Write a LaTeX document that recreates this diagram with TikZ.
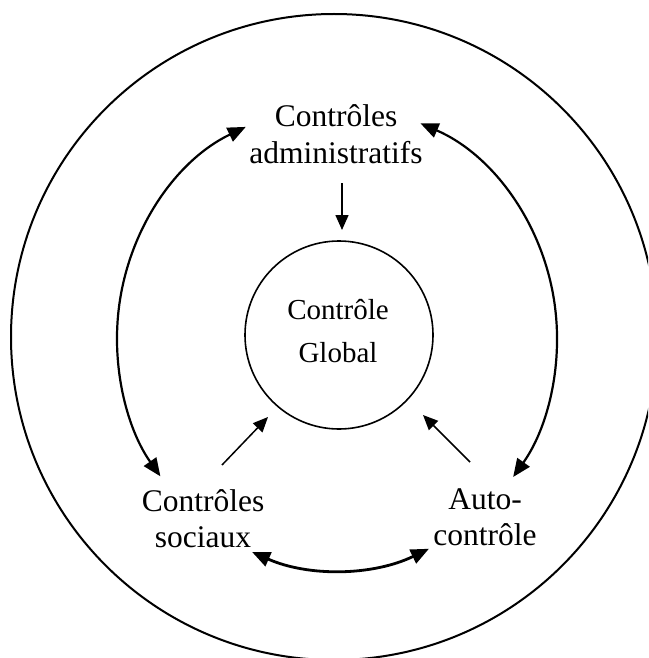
\documentclass[tikz,border=0pt]{standalone}
\usepackage{fontspec}
\setmainfont{Liberation Serif}
\usetikzlibrary{arrows.meta}
\begin{document}
\begin{tikzpicture}[x=1pt,y=-1pt,
  lbl/.style={align=center, font=\fontsize{31.5}{36}\selectfont, inner sep=0pt},
  inlbl/.style={align=center, font=\fontsize{29}{43}\selectfont, inner sep=0pt},
  thin arrow/.style={line width=1.5pt, -{Triangle[length=15pt,width=13pt]}},
  bi arrow/.style={line width=2.2pt, {Triangle[length=18pt,width=15pt]}-{Triangle[length=18pt,width=15pt]}},
]
\clip (0,0) rectangle (648,658);
% outer circle
\coordinate (oc) at (334,337);
\draw[line width=2pt] (oc) circle[radius=323];
% centre of the ring of arrows
\coordinate (rc) at (337,338);
% inner circle
\node[draw, circle, line width=1.6pt, minimum size=188pt, inner sep=0pt] (glob) at (339,335) {};
\node[inlbl, anchor=base] (globtxt) at (338,362) {Contrôle\\Global};
% labels
\node[lbl, anchor=base] (adm) at (336,163) {Contrôles\\administratifs};
\node[lbl, anchor=base] (soc) at (203,547) {Contrôles\\sociaux};
\node[lbl, anchor=base] (auto) at (485,545) {Auto-\\contrôle};
% straight arrows
\coordinate (a1s) at (342,183);
\coordinate (a1e) at (342,230);
\coordinate (a2s) at (222,465);
\coordinate (a2e) at (268,417);
\coordinate (a3s) at (470,462);
\coordinate (a3e) at (423,415);
\draw[thin arrow] (a1s) -- (a1e);
\draw[thin arrow] (a2s) -- (a2e);
\draw[thin arrow] (a3s) -- (a3e);
% curved double arrows
\draw[bi arrow] ([shift={(-114.5:220 and 232)}]rc) arc[start angle=-114.5, end angle=-216.6, x radius=220, y radius=232];
\draw[bi arrow] ([shift={(-67.7:220 and 232)}]rc) arc[start angle=-67.7, end angle=36.8, x radius=220, y radius=232];
\draw[bi arrow, line width=2.8pt] ([shift={(-247.3:220 and 232)}]rc) arc[start angle=-247.3, end angle=-294.7, x radius=220, y radius=232];
\end{tikzpicture}
\end{document}
